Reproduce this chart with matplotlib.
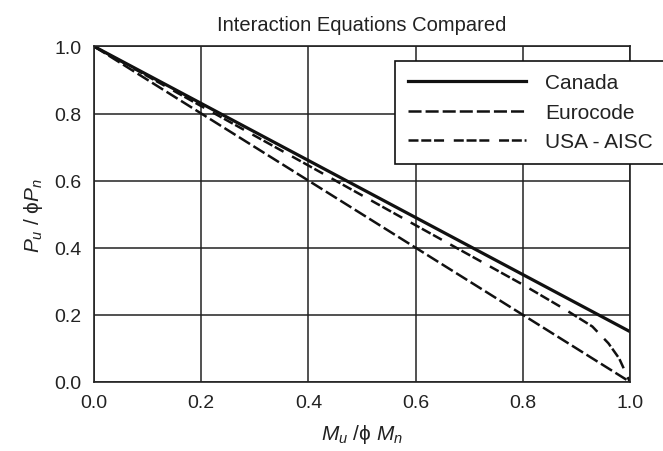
import numpy as np
import matplotlib
matplotlib.use('Agg')
import matplotlib.pyplot as plt

# Шрифты: Arial-подобный + запасной для греческих букв
plt.rcParams['font.family'] = ['Liberation Sans', 'DejaVu Sans']
plt.rcParams['mathtext.fontset'] = 'custom'
plt.rcParams['mathtext.rm'] = 'Liberation Sans'
plt.rcParams['mathtext.it'] = 'Liberation Sans:italic'
plt.rcParams['lines.scale_dashes'] = False

# Данные
m_canada = [0.0, 0.2, 0.4, 0.6, 0.8, 1.0]
p_canada = [1.0, 0.83, 0.66, 0.49, 0.32, 0.15]

m_euro = [0.0, 0.2, 0.4, 0.6, 0.8, 1.0]
p_euro = [1.0, 0.8, 0.6, 0.4, 0.2, 0.0]

m_aisc = [0.0, 0.2, 0.4, 0.6, 0.8, 0.88, 0.93, 0.96, 0.98, 1.0]
p_aisc = [1.0, 0.822, 0.645, 0.467, 0.29, 0.215, 0.165, 0.115, 0.07, 0.0]

ticks = [0.0, 0.2, 0.4, 0.6, 0.8, 1.0]
tick_labels = ['0.0', '0.2', '0.4', '0.6', '0.8', '1.0']

ink = '#222222'

fig = plt.figure(figsize=(6.63, 4.52), dpi=100)
ax = fig.add_axes([0.142, 0.153, 0.808, 0.742])

ax.plot(m_canada, p_canada, color='#111111', lw=2.3, label='Canada')
ax.plot(m_euro, p_euro, color='#111111', lw=1.8, dashes=[9.4, 2.9], label='Eurocode')
ax.plot(m_aisc, p_aisc, color='#111111', lw=1.8,
        dashes=[7.2, 2.0, 7.2, 2.0, 7.2, 7.0], label='USA - AISC')

ax.set_xlim(0, 1)
ax.set_ylim(0, 1)
ax.set_xticks(ticks)
ax.set_xticklabels(tick_labels)
ax.set_yticks(ticks)
ax.set_yticklabels(tick_labels)
ax.tick_params(length=0, pad=9, labelsize=14, colors=ink)
ax.grid(True, color=ink, lw=1.1)
for s in ax.spines.values():
    s.set_color(ink)
    s.set_linewidth(1.2)

ax.set_title('Interaction Equations Compared', fontsize=14.5, color=ink, pad=12)
ax.set_xlabel(r'$M_u$ /ϕ $M_n$', fontsize=15, color=ink, labelpad=8)
ax.set_ylabel(r'$P_u$ / ϕ$P_n$', fontsize=15, color=ink, labelpad=7)

leg = ax.legend(loc='upper left', bbox_to_anchor=(0.562, 0.957), borderaxespad=0,
                fontsize=15, handlelength=5.7, handletextpad=0.9, labelspacing=0.5,
                borderpad=0.6, fancybox=False, framealpha=1, edgecolor='#111111')
leg.get_frame().set_linewidth(1.2)
for t in leg.get_texts():
    t.set_color(ink)

plt.savefig('out.png', dpi=100)
